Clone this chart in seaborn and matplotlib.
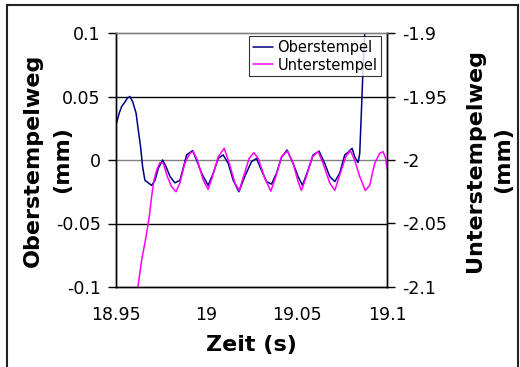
import matplotlib
matplotlib.use("Agg")
import matplotlib.pyplot as plt
from matplotlib.lines import Line2D
from matplotlib.patches import Rectangle
import pandas as pd
import seaborn as sns

# Oberstempel displacement (left axis, mm) over time (s)
ober_t = [18.9500, 18.9518, 18.9531, 18.9546, 18.9563, 18.9577, 18.9592, 18.9611,
          18.9623, 18.9636, 18.9647, 18.9660, 18.9679, 18.9697, 18.9716, 18.9734,
          18.9758, 18.9776, 18.9799, 18.9826, 18.9854, 18.9891, 18.9924, 18.9946,
          18.9974, 19.0010, 19.0038, 19.0066, 19.0093, 19.0121, 19.0149, 19.0180,
          19.0213, 19.0250, 19.0278, 19.0305, 19.0333, 19.0361, 19.0388, 19.0416,
          19.0447, 19.0480, 19.0508, 19.0532, 19.0563, 19.0591, 19.0624, 19.0655,
          19.0683, 19.0711, 19.0738, 19.0766, 19.0784, 19.0807, 19.0821, 19.0840,
          19.0849, 19.0858, 19.0867, 19.0877, 19.0886]
ober_mm = [0.0276, 0.037, 0.042, 0.045, 0.0487, 0.050, 0.046, 0.037,
           0.024, 0.0105, -0.005, -0.016, -0.018, -0.020, -0.016, -0.0066,
           0.000, -0.005, -0.013, -0.018, -0.016, 0.004, 0.0074, 0.000,
           -0.0105, -0.020, -0.0105, 0.0013, 0.004, -0.0026, -0.016, -0.025,
           -0.013, -0.0013, 0.0013, -0.008, -0.017, -0.019, -0.0105, 0.002,
           0.0079, -0.0026, -0.013, -0.020, -0.008, 0.004, 0.007, -0.0026,
           -0.013, -0.017, -0.0105, 0.004, 0.006, 0.0092, 0.0026, -0.002,
           0.005, 0.037, 0.071, 0.100, 0.115]

# Unterstempel displacement (right axis, mm) over time (s)
unter_t = [18.9618, 18.9642, 18.9666, 18.9684, 18.9697, 18.9710, 18.9725, 18.9743,
           18.9762, 18.9784, 18.9808, 18.9832, 18.9854, 18.9881, 18.9909, 18.9928,
           18.9950, 18.9983, 19.0010, 19.0034, 19.0066, 19.0099, 19.0127, 19.0158,
           19.0182, 19.0208, 19.0237, 19.0263, 19.0287, 19.0324, 19.0357, 19.0385,
           19.0416, 19.0449, 19.0480, 19.0508, 19.0526, 19.0554, 19.0587, 19.0619,
           19.0646, 19.0683, 19.0711, 19.0738, 19.0772, 19.0797, 19.0821, 19.0849,
           19.0880, 19.0904, 19.0932, 19.0960, 19.0978, 19.0993, 19.1000]
unter_mm = [-2.103, -2.079, -2.0605, -2.0447, -2.029, -2.016, -2.008, -2.002,
            -2.0026, -2.013, -2.021, -2.025, -2.018, -2.0026, -1.9947, -1.9934,
            -2.000, -2.016, -2.023, -2.013, -1.9974, -1.9908, -2.0026, -2.018,
            -2.024, -2.012, -1.9987, -1.9942, -1.9987, -2.0145, -2.0245, -2.013,
            -1.9974, -1.9929, -2.0026, -2.017, -2.024, -2.013, -1.9974, -1.9934,
            -2.0026, -2.018, -2.024, -2.012, -1.9974, -1.9926, -2.000, -2.013,
            -2.024, -2.020, -2.0026, -1.9947, -1.9934, -1.9987, -2.0066]

x_ticks = [18.95, 19.0, 19.05, 19.1]
x_labels = ["18.95", "19", "19.05", "19.1"]
left_ticks = [-0.1, -0.05, 0.0, 0.05, 0.1]
left_labels = ["-0.1", "-0.05", "0", "0.05", "0.1"]
right_ticks = [-2.1, -2.05, -2.0, -1.95, -1.9]
right_labels = ["-2.1", "-2.05", "-2", "-1.95", "-1.9"]

series_names = ["Oberstempel", "Unterstempel"]
series_colors = ["#000080", "#FF00FF"]

sns.set_style("white")
plt.rcParams["font.family"] = ["DejaVu Sans"]
plt.rcParams["axes.unicode_minus"] = False
plt.rcParams["text.color"] = "black"
plt.rcParams["axes.labelcolor"] = "black"
plt.rcParams["xtick.color"] = "black"
plt.rcParams["ytick.color"] = "black"

fig = plt.figure(figsize=(5.2, 3.67), dpi=100)
ax = fig.add_axes([116 / 520, 80 / 367, 271 / 520, 254 / 367])
ax2 = ax.twinx()

# horizontal gridlines
for y, c in [(0.05, "black"), (-0.05, "black"), (0.0, "#808080")]:
    ax.axhline(y, color=c, lw=1.0, zorder=0.5)

df_o = pd.DataFrame({"t": ober_t, "v": ober_mm})
df_u = pd.DataFrame({"t": unter_t, "v": unter_mm})
sns.lineplot(data=df_o, x="t", y="v", ax=ax, color=series_colors[0],
             lw=1.1, estimator=None, sort=False)
sns.lineplot(data=df_u, x="t", y="v", ax=ax2, color=series_colors[1],
             lw=1.1, estimator=None, sort=False)

ax.set_xlim(18.95, 19.1)
ax.set_ylim(-0.1, 0.1)
ax2.set_ylim(-2.1, -1.9)

ax.set_xticks(x_ticks)
ax.set_xticklabels(x_labels)
ax.set_yticks(left_ticks)
ax.set_yticklabels(left_labels)
ax2.set_yticks(right_ticks)
ax2.set_yticklabels(right_labels)

for a in (ax, ax2):
    a.tick_params(axis="y", direction="out", length=6, width=1,
                  labelsize=12.5, pad=5)
    a.tick_params(axis="x", direction="out", length=5, width=1,
                  labelsize=12.5, pad=9)
    for s in a.spines.values():
        s.set_color("black")
        s.set_linewidth(1.0)
    a.spines["top"].set_color("#808080")

ax.set_xlabel("Zeit (s)", fontsize=16, fontweight="bold")
ax.xaxis.set_label_coords(0.5, -0.189)
ax.set_ylabel("")
ax2.set_ylabel("")

# two-line axis titles, one text per line
label_kw = dict(fontsize=16, fontweight="bold", rotation=90,
                ha="center", va="center")
yc = 1 - 160 / 367
fig.text(33 / 520, yc, "Oberstempelweg", **label_kw)
fig.text(62 / 520, yc, "(mm)", **label_kw)
fig.text(475 / 520, yc, "Unterstempelweg", **label_kw)
fig.text(503 / 520, yc, "(mm)", **label_kw)

handles = [Line2D([0], [0], color=c, lw=1.1) for c in series_colors]
leg = ax2.legend(handles, series_names, loc="upper right",
                 bbox_to_anchor=(381 / 520, 331 / 367), bbox_transform=fig.transFigure,
                 fontsize=10.5, frameon=True, fancybox=False, handlelength=1.4,
                 handletextpad=0.3, borderpad=0.25, labelspacing=0.2,
                 borderaxespad=0)
leg.get_frame().set_edgecolor("black")
leg.get_frame().set_linewidth(0.8)

# outer chart border
fig.patches.append(Rectangle((7 / 520, -0.02), 511 / 520, 1 - 5 / 367 + 0.02,
                             transform=fig.transFigure, fill=False,
                             edgecolor="#222222", lw=1.5))

fig.savefig("out.png", dpi=100)
